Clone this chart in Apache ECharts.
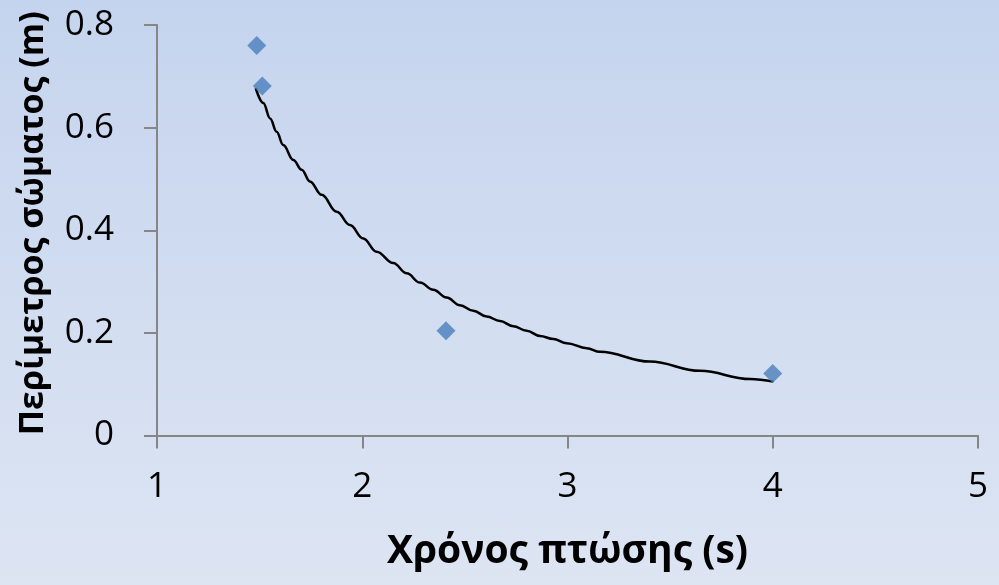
<!DOCTYPE html>
<html>
<head>
<meta charset="utf-8">
<script src="https://cdn.jsdelivr.net/npm/echarts@6/dist/echarts.min.js"></script>
<style>
html,body{margin:0;padding:0;}
#chart{width:999px;height:585px;background:linear-gradient(to bottom,#c5d4ee 0%,#dde5f3 100%);}
</style>
</head>
<body>
<div id="chart"></div>
<script>
// Measured points (fall time s, perimeter m)
const timeValues = [1.486, 1.513, 2.408, 4.0];
const perimeterValues = [0.760, 0.681, 0.204, 0.121];
// Trend line
const trendX = [1.481, 1.518, 1.551, 1.583, 1.615, 1.664, 1.705, 1.745, 1.802, 1.876, 1.940, 2.005, 2.070, 2.151, 2.217, 2.281, 2.346, 2.411, 2.476, 2.541, 2.606, 2.671, 2.736, 2.801, 2.866, 2.931, 2.996, 3.094, 3.158, 3.402, 3.646, 3.889, 4.003];
const trendY = [0.677, 0.648, 0.618, 0.592, 0.566, 0.537, 0.518, 0.495, 0.469, 0.436, 0.410, 0.384, 0.358, 0.336, 0.316, 0.298, 0.284, 0.269, 0.254, 0.243, 0.232, 0.223, 0.213, 0.204, 0.194, 0.188, 0.180, 0.170, 0.163, 0.144, 0.126, 0.110, 0.105];
const xTitle = 'Χρόνος πτώσης (s)';
const yTitle = 'Περίμετρος σώματος (m)';

const chart = echarts.init(document.getElementById('chart'), null, {renderer: 'canvas'});
const font = '"Open Sans", "Noto Sans", sans-serif';
const axisColor = '#868686';
chart.setOption({
  backgroundColor: 'transparent',
  animation: false,
  grid: {left: 157, right: 21, top: 25, bottom: 149.5, containLabel: false},
  xAxis: {
    type: 'value', min: 1, max: 5, interval: 1,
    name: xTitle, nameLocation: 'middle', nameGap: 97,
    nameTextStyle: {fontFamily: font, fontWeight: 'bold', fontSize: 39, color: '#000'},
    axisLine: {show: true, onZero: false, lineStyle: {color: axisColor, width: 2}},
    axisTick: {show: true, length: 13, lineStyle: {color: axisColor, width: 2}},
    axisLabel: {fontFamily: font, fontSize: 35, color: '#000', margin: 34},
    splitLine: {show: false}
  },
  yAxis: {
    type: 'value', min: 0, max: 0.8, interval: 0.2,
    name: yTitle, nameLocation: 'middle', nameGap: 107,
    nameTextStyle: {fontFamily: font, fontWeight: 'bold', fontSize: 34, color: '#000', padding: [0, 0, 0, 14]},
    axisLine: {show: true, lineStyle: {color: axisColor, width: 2}},
    axisTick: {show: true, length: 13, lineStyle: {color: axisColor, width: 2}},
    axisLabel: {fontFamily: font, fontSize: 35, color: '#000', margin: 43,
      formatter: v => (Math.round(v * 10) / 10).toString()},
    splitLine: {show: false}
  },
  series: [
    {
      type: 'line',
      data: trendX.map((x, i) => [x, trendY[i]]),
      showSymbol: false, symbol: 'none', smooth: 0.4, smoothMonotone: 'x',
      lineStyle: {color: '#000', width: 2.5},
      z: 2
    },
    {
      type: 'scatter',
      data: timeValues.map((x, i) => [x, perimeterValues[i]]),
      symbol: 'diamond', symbolSize: 19,
      itemStyle: {color: '#4a7ebb'},
      z: 3
    }
  ]
});
</script>
</body>
</html>
